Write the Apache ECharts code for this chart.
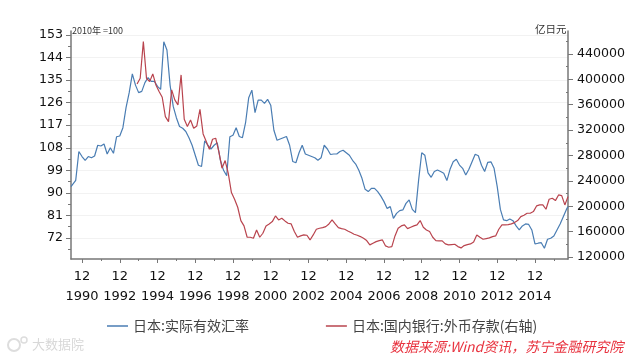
<!DOCTYPE html>
<html>
<head>
<meta charset="utf-8">
<script src="https://cdn.jsdelivr.net/npm/echarts@6/dist/echarts.min.js"></script>
<style>
html, body { margin: 0; padding: 0; background: #fff; }
#chart { width: 640px; height: 359px; }
</style>
</head>
<body>
<div id="chart"></div>
<script>
const blueName = "日本:实际有效汇率";
const redName = "日本:国内银行:外币存款(右轴)";

// May 1990, then every even month, then Sep 2016
const blueValues = [
    92.5,
    93, 95, 106.5, 104.5,
    103, 104.5, 104, 104.7, 109, 108.7,
    109.5, 105.5, 108, 105.8, 112.4, 112.7,
    116, 124, 130, 137.5, 133, 130,
    130.5, 134, 136, 134.5, 134.5, 132.5,
    131.3, 150.3, 147, 133, 124.5, 120,
    116.5, 115.8, 114.5, 112, 109, 105,
    101, 100.5, 110.8, 109, 107.5, 109,
    110, 103, 99, 96.8, 112.4, 113,
    116, 112.5, 112, 118, 128, 131,
    122, 127, 127, 125.7, 127.3, 125,
    115, 111, 111.5, 112, 112.5, 109,
    102.5, 102, 106, 109, 105.5, 105,
    104.5, 104, 103, 104, 109, 107.5,
    105.3, 105.5, 105.5, 106.5, 107, 106,
    105, 103, 101.5, 99, 95.8, 91.4,
    90.5, 91.8, 91.8, 90.5, 88.7, 86.5,
    83.8, 84.5, 79.8, 81.8, 82.9, 83.2,
    85.8, 87.2, 83.4, 82.1, 95, 106,
    105, 98, 96.2, 98.5, 99.1, 98.5,
    97.8, 94.9, 99.4, 102.4, 103.4, 101.1,
    99.8, 97.1, 99.4, 102.4, 105.4, 104.8,
    101, 98.5, 102.2, 102.4, 99.8, 92.5,
    83.4, 79.2, 78.9, 79.6, 78.9, 76.8,
    75.2, 76.8, 77.6, 77.4, 75.2, 69.6,
    69.9, 70.1, 67.9, 71.5, 71.9, 72.8,
    75.2, 77.6, 80.5, 83.4,
    84.5
];

// every odd month from Nov 1993 to Sep 2016
const redValues = [
    392750,
    401675, 459400, 401700, 396400, 408500, 391200,
    380700, 371750, 341300, 333400, 383300, 367550,
    359700, 406900, 337100, 325550, 336050, 322900,
    326600, 352850, 314000, 302000, 289850, 305600,
    307200, 286200, 260000, 272000, 252000, 221600,
    211100, 198500, 177500, 169100, 151250, 151250,
    149675, 162800, 151250, 157550, 169100, 172250,
    175900, 184850, 178550, 181200, 177000, 173300,
    172250, 160200, 151250, 153350, 154900, 154400,
    147000, 154900, 163850, 165400, 166500, 168000,
    172250, 178550, 172250, 166500, 164900, 163850,
    161200, 158600, 156000, 154400, 152300, 149675,
    146000, 139200, 141800, 144400, 146000, 147000,
    137600, 135500, 136550, 153350, 165400, 169100,
    170675, 164900, 167000, 169100, 170675, 177500,
    167000, 162800, 160200, 151250, 146000, 145475,
    145475, 140750, 139200, 139700, 140200, 136550,
    134450, 138100, 139700, 140750, 143900, 154900,
    151250, 148100, 149150, 150200, 152300, 153350,
    163850, 170675, 170675, 171200, 172250, 174350,
    177500, 183800, 185900, 189050, 189050, 191675,
    200600, 202175, 202175, 195350, 211100, 212675,
    209000, 217925, 216875, 202175, 215300
];

const leftTicks = [72, 81, 90, 99, 108, 117, 126, 135, 144, 153];
const leftMinorTicks = [67.5, 76.5, 85.5, 94.5, 103.5, 112.5, 121.5, 130.5, 139.5, 148.5];
const rightTicks = [120000, 160000, 200000, 240000, 280000, 320000, 360000, 400000, 440000];
const rightMinorTicks = [140000, 180000, 220000, 260000, 300000, 340000, 380000, 420000, 460000];
const xTickYears = [1990, 1992, 1994, 1996, 1998, 2000, 2002, 2004, 2006, 2008, 2010, 2012, 2014];
const xMinorYears = [1991, 1993, 1995, 1997, 1999, 2001, 2003, 2005, 2007, 2009, 2011, 2013, 2015];

// x axis is a plain month count
function monthIndex(year, month) {
    return year * 12 + month - 1;
}

function stepMonths(year, month, count) {
    const out = [];
    const start = monthIndex(year, month);
    for (let i = 0; i < count; i++) {
        out.push(start + i * 2);
    }
    return out;
}

const xMin = monthIndex(1990, 5);
const xMax = monthIndex(2016, 9);
const blueMonths = [xMin]
    .concat(stepMonths(1990, 6, blueValues.length - 2))
    .concat([xMax]);
const redMonths = stepMonths(1993, 11, redValues.length);
const xTicks = xTickYears.map(y => monthIndex(y, 12));
const xMinorTicks = xMinorYears.map(y => monthIndex(y, 12));

const axisGray = "#777777";
const textFont = "'DejaVu Sans', sans-serif";
const cjkFont = "'Noto Sans CJK SC', sans-serif";

const chart = echarts.init(document.getElementById("chart"));

function yAxisBase(position, min, max) {
    return {
        type: "value",
        position: position,
        min: min,
        max: max,
        axisLine: { show: true, onZero: false, lineStyle: { color: axisGray, width: 1.5 } },
        splitLine: { show: false }
    };
}

chart.setOption({
    animation: false,
    backgroundColor: "#ffffff",
    grid: { left: 71, right: 72, top: 31, bottom: 100 },
    legend: {
        left: 102,
        top: 314,
        itemWidth: 21,
        itemHeight: 1.5,
        itemGap: 77,
        icon: "rect",
        textStyle: { fontFamily: cjkFont, fontSize: 14, color: "#444444" },
        data: [blueName, redName]
    },
    xAxis: [
        {
            type: "value",
            min: xMin,
            max: xMax,
            axisLine: { onZero: false, lineStyle: { color: axisGray, width: 1.5 } },
            axisTick: { length: 4, customValues: xTicks, lineStyle: { color: axisGray } },
            axisLabel: {
                customValues: xTicks,
                margin: 8,
                hideOverlap: false,
                fontFamily: textFont,
                fontSize: 13,
                lineHeight: 20,
                color: "#111111",
                formatter: function (value) {
                    return "12\n" + Math.floor(value / 12);
                }
            },
            splitLine: { show: false }
        },
        {
            type: "value",
            min: xMin,
            max: xMax,
            position: "bottom",
            axisLine: { show: false, onZero: false },
            axisTick: { length: 2, customValues: xMinorTicks, lineStyle: { color: axisGray } },
            axisLabel: { show: false },
            splitLine: { show: false }
        }
    ],
    yAxis: [
        Object.assign(yAxisBase("left", 63.6, 154.6), {
            axisTick: { length: 5, customValues: leftTicks, lineStyle: { color: axisGray } },
            axisLabel: { customValues: leftTicks, margin: 8, fontFamily: textFont, fontSize: 12.6, color: "#111111" },
            splitLine: { show: true, lineStyle: { color: "#f2f2f2", width: 1 } }
        }),
        Object.assign(yAxisBase("right", 117000, 476100), {
            axisTick: { length: 5, customValues: rightTicks, lineStyle: { color: axisGray } },
            axisLabel: {
                customValues: rightTicks,
                margin: 9,
                fontFamily: textFont,
                fontSize: 12.6,
                color: "#111111",
                formatter: function (value) {
                    return String(value);
                }
            }
        }),
        Object.assign(yAxisBase("left", 63.6, 154.6), {
            axisLine: { show: false },
            axisTick: { length: 3, customValues: leftMinorTicks, lineStyle: { color: axisGray } },
            axisLabel: { show: false }
        }),
        Object.assign(yAxisBase("right", 117000, 476100), {
            axisLine: { show: false },
            axisTick: { length: 2, inside: true, customValues: rightMinorTicks, lineStyle: { color: axisGray } },
            axisLabel: { show: false }
        })
    ],
    series: [
        {
            name: blueName,
            type: "line",
            xAxisIndex: 0,
            yAxisIndex: 0,
            showSymbol: false,
            lineStyle: { color: "#4a7db3", width: 1.2 },
            itemStyle: { color: "#4a7db3" },
            data: blueMonths.map((m, i) => [m, blueValues[i]])
        },
        {
            name: redName,
            type: "line",
            xAxisIndex: 0,
            yAxisIndex: 1,
            showSymbol: false,
            lineStyle: { color: "#b9444e", width: 1.2 },
            itemStyle: { color: "#b9444e" },
            data: redMonths.map((m, i) => [m, redValues[i]])
        }
    ],
    graphic: [
        {
            type: "text",
            left: 72,
            top: 26,
            style: { text: "2010年 =100", fontFamily: cjkFont, fontSize: 9, fill: "#333333" }
        },
        {
            type: "text",
            left: 535,
            top: 24,
            style: { text: "亿日元", fontFamily: cjkFont, fontSize: 10.5, fill: "#333333" }
        },
        {
            type: "text",
            left: 390,
            top: 340,
            style: {
                text: "数据来源:Wind资讯，苏宁金融研究院",
                fontFamily: cjkFont,
                fontStyle: "italic",
                fontSize: 14,
                fill: "#e8333f"
            }
        },
        {
            type: "text",
            left: 32,
            top: 338,
            style: { text: "大数据院", fontFamily: cjkFont, fontSize: 13, fill: "#d8d8d8" }
        },
        {
            type: "circle",
            shape: { cx: 14, cy: 345, r: 6 },
            style: { fill: "none", stroke: "#dddddd", lineWidth: 2 }
        },
        {
            type: "circle",
            shape: { cx: 24, cy: 340, r: 3 },
            style: { fill: "none", stroke: "#dddddd", lineWidth: 1.5 }
        }
    ]
});
</script>
</body>
</html>
